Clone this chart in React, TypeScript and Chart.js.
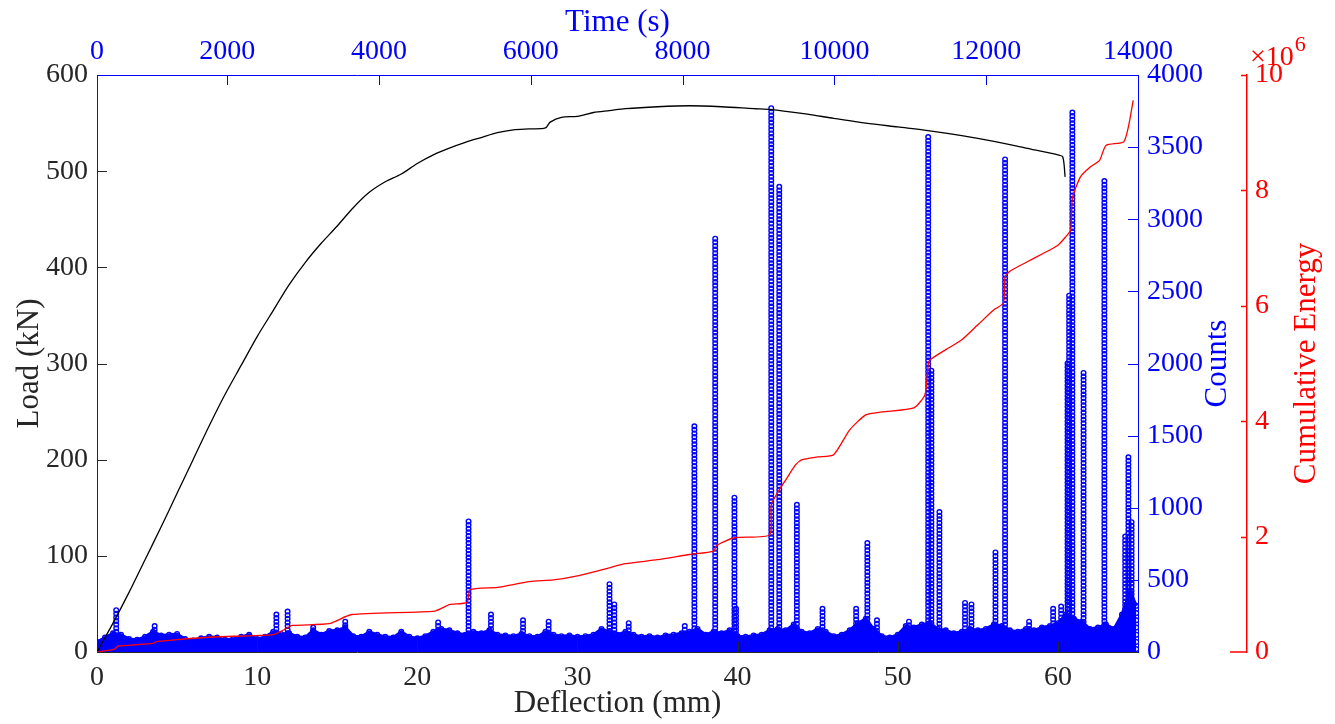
import React, { useEffect, useRef } from "react";
import { Chart, registerables } from "chart.js";

Chart.register(...registerables);

// ---------- tick labels ----------
const DEFL_TICKS = [0, 10, 20, 30, 40, 50, 60];
const LOAD_TICKS = [0, 100, 200, 300, 400, 500, 600];
const COUNT_TICKS = [0, 500, 1000, 1500, 2000, 2500, 3000, 3500, 4000];
const ENERGY_TICKS = [0, 2, 4, 6, 8, 10]; // x10^6
const TIME_TICKS = [0, 2000, 4000, 6000, 8000, 10000, 12000, 14000];
const TIME_AXIS_MIN = 284; // left edge of the time axis (labelled "0")

// ---------- load vs deflection (black) ----------
const LOAD_DEFL = [0, 1, 2, 3, 4, 5, 6, 7, 8, 9, 10, 11, 12, 13, 14, 15, 16, 17, 18, 19, 20, 21, 22, 23, 24, 25, 26, 27, 28, 28.3, 29, 30, 31, 32, 33, 35, 37, 39, 41, 42.1, 44, 46, 48, 50, 52, 54, 56, 58, 60, 60.3, 60.45];
const LOAD_KN = [0, 30, 62, 96, 130, 165, 200, 235, 268, 298, 328, 355, 382, 405, 425, 443, 462, 478, 489, 497, 508, 517, 524, 530, 535, 540, 543, 544, 545, 551, 556, 557, 561, 563, 565, 567, 568, 567, 565, 564, 560, 555, 550, 546, 542, 537, 531, 524, 517, 515, 494];

// ---------- cumulative energy (red, x10^6) ----------
const ENERGY_DEFL = [0, 1.1, 1.3, 3.5, 3.7, 7.2, 11, 11.7, 12.2, 14.5, 15.9, 21.1, 22, 23.1, 23.3, 25, 27, 28.5, 30, 32, 33, 35, 37, 38.5, 38.7, 39.8, 42, 42.1, 42.6, 43, 43.6, 44, 45, 46, 47, 48, 49, 51, 51.7, 51.9, 52, 53, 54, 55, 56, 56.6, 56.7, 57, 58, 59.1, 60, 60.5, 60.8, 60.9, 61.4, 62, 62.6, 63, 64.1, 64.4, 64.7];
const ENERGY_VAL = [0, 0.05, 0.1, 0.15, 0.18, 0.26, 0.3, 0.39, 0.46, 0.49, 0.65, 0.71, 0.82, 0.86, 1.08, 1.12, 1.22, 1.25, 1.32, 1.46, 1.53, 1.6, 1.69, 1.75, 1.85, 1.98, 2.03, 2.55, 2.81, 2.98, 3.24, 3.33, 3.38, 3.42, 3.85, 4.11, 4.16, 4.23, 4.46, 4.98, 5.06, 5.24, 5.41, 5.67, 5.93, 6.05, 6.5, 6.6, 6.75, 6.91, 7.05, 7.2, 7.31, 7.86, 8.23, 8.4, 8.52, 8.78, 8.84, 9.1, 9.56];

// ---------- counts: dense low band (blue) ----------
const BAND_DEFL = [0, 0.5, 1, 1.5, 2, 2.5, 3, 3.5, 4, 4.5, 5, 5.5, 6, 6.5, 7, 7.5, 8, 8.5, 9, 9.5, 10, 10.5, 11, 11.5, 12, 12.5, 13, 13.5, 14, 14.5, 15, 15.5, 16, 16.5, 17, 17.5, 18, 18.5, 19, 19.5, 20, 20.5, 21, 21.5, 22, 22.5, 23, 23.5, 24, 24.5, 25, 25.5, 26, 26.5, 27, 27.5, 28, 28.5, 29, 29.5, 30, 30.5, 31, 31.5, 32, 32.5, 33, 33.5, 34, 34.5, 35, 35.5, 36, 36.5, 37, 37.5, 38, 38.5, 39, 39.5, 40, 40.5, 41, 41.5, 42, 42.5, 43, 43.5, 44, 44.5, 45, 45.5, 46, 46.5, 47, 47.5, 48, 48.5, 49, 49.5, 50, 50.5, 51, 51.5, 52, 52.5, 53, 53.5, 54, 54.5, 55, 55.5, 56, 56.5, 57, 57.5, 58, 58.5, 59, 59.5, 60, 60.5, 61, 61.5, 62, 62.5, 63, 63.5, 64, 64.5, 64.9];
const BAND_COUNTS = [70, 100, 130, 120, 90, 85, 105, 140, 115, 120, 125, 90, 80, 95, 105, 100, 85, 90, 105, 120, 90, 105, 140, 125, 130, 105, 100, 150, 120, 145, 150, 170, 110, 105, 140, 120, 105, 100, 140, 105, 95, 110, 140, 160, 150, 130, 120, 140, 130, 150, 120, 115, 110, 125, 110, 105, 140, 120, 110, 115, 105, 110, 120, 160, 140, 120, 140, 120, 105, 110, 100, 115, 120, 130, 140, 160, 120, 140, 130, 150, 110, 105, 115, 120, 150, 160, 150, 190, 140, 130, 160, 140, 110, 120, 150, 200, 230, 160, 110, 100, 120, 180, 170, 190, 200, 160, 150, 130, 140, 160, 150, 160, 190, 180, 150, 140, 160, 150, 170, 180, 200, 260, 230, 210, 160, 170, 190, 160, 260, 420, 320];

// ---------- counts: columns of hits (blue rings) ----------
const SPIKE_DEFL = [1.2, 3.6, 11.2, 11.9, 13.5, 15.5, 21.3, 23.2, 24.6, 26.6, 28.2, 32.0, 32.3, 33.2, 36.7, 37.3, 38.6, 39.8, 39.9, 42.1, 42.6, 43.7, 45.3, 47.4, 48.1, 48.7, 50.7, 51.9, 52.1, 52.6, 54.2, 54.6, 56.1, 56.7, 58.2, 59.7, 60.2, 60.6, 60.7, 60.9, 61.6, 62.9, 64.2, 64.4, 64.6];
const SPIKE_TOP = [290, 180, 260, 280, 170, 210, 205, 905, 260, 220, 210, 470, 330, 200, 180, 1565, 2865, 1070, 300, 3770, 3225, 1020, 300, 300, 755, 220, 210, 3570, 1950, 970, 340, 330, 690, 3415, 210, 300, 315, 2000, 2470, 3740, 1935, 3265, 800, 1350, 900];
const RING_STEP = 25; // vertical spacing of the stacked hit markers (counts)

const DARK = "#262626";
const BLUE = "#0000ff";
const RED = "#ff0000";
const FONT = "'Liberation Serif', 'Times New Roman', serif";
const TICK_FONT = { family: FONT, size: 28 };
const TITLE_FONT = { family: FONT, size: 31 };

const decorPlugin = {
  id: "decor",
  afterDraw(chart: any) {
    const { ctx, chartArea: ca, scales } = chart;
    const L = 10;
    ctx.save();
    ctx.lineWidth = 1;
    const seg = (x1: number, y1: number, x2: number, y2: number) => {
      ctx.beginPath();
      ctx.moveTo(x1, y1);
      ctx.lineTo(x2, y2);
      ctx.stroke();
    };
    ctx.strokeStyle = DARK;
    scales.x.ticks.forEach((t: any) => {
      const px = Math.round(scales.x.getPixelForValue(t.value)) + 0.5;
      if (px > ca.left + 1 && px < ca.right - 1) seg(px, ca.bottom, px, ca.bottom - L);
    });
    scales.y.ticks.forEach((t: any) => {
      const py = Math.round(scales.y.getPixelForValue(t.value)) + 0.5;
      if (py > ca.top + 1 && py < ca.bottom - 1) seg(ca.left, py, ca.left + L, py);
    });
    ctx.strokeStyle = BLUE;
    scales.x2.ticks.forEach((t: any) => {
      const px = Math.round(scales.x2.getPixelForValue(t.value)) + 0.5;
      if (px > ca.left + 1 && px < ca.right - 1) seg(px, ca.top, px, ca.top + L);
    });
    scales.y1.ticks.forEach((t: any) => {
      const py = Math.round(scales.y1.getPixelForValue(t.value)) + 0.5;
      if (py > ca.top + 1 && py < ca.bottom - 1) seg(ca.right, py, ca.right - L, py);
    });
    ctx.strokeStyle = RED;
    ctx.lineWidth = 1.5;
    const ex = scales.y2.left;
    scales.y2.ticks.forEach((t: any) => {
      const py = Math.round(scales.y2.getPixelForValue(t.value)) + 0.5;
      if (py < ca.bottom - 1) seg(ex - 6, py, ex, py);
    });
    seg(ex - 17, ca.bottom, ex, ca.bottom);
    ctx.fillStyle = RED;
    ctx.textBaseline = "alphabetic";
    ctx.textAlign = "left";
    ctx.font = `28px ${FONT}`;
    const base = "\u00d710";
    ctx.fillText(base, ex + 3, 65);
    const w = ctx.measureText(base).width;
    ctx.font = `22px ${FONT}`;
    ctx.fillText("6", ex + 3 + w + 1, 51);
    const cy = (ca.top + ca.bottom) / 2;
    ctx.font = `31px ${FONT}`;
    ctx.textAlign = "center";
    ctx.textBaseline = "middle";
    ctx.save();
    ctx.translate(scales.y1.right - 29, cy);
    ctx.rotate(-Math.PI / 2);
    ctx.fillStyle = BLUE;
    ctx.fillText("Counts", 0, 0);
    ctx.restore();
    ctx.save();
    ctx.translate(scales.y2.right - 28, cy);
    ctx.rotate(-Math.PI / 2);
    ctx.fillStyle = RED;
    ctx.fillText("Cumulative Energy", 0, 0);
    ctx.restore();
    ctx.restore();
  },
};

export default function App() {
  const ref = useRef<HTMLCanvasElement | null>(null);

  useEffect(() => {
    if (!ref.current) return;
    const loadData = LOAD_DEFL.map((x, i) => ({ x, y: LOAD_KN[i] }));
    const energyData = ENERGY_DEFL.map((x, i) => ({ x, y: ENERGY_VAL[i] }));
    const bandData = BAND_DEFL.map((x, i) => ({ x, y: BAND_COUNTS[i] }));
    const ringData: { x: number; y: number }[] = [];
    SPIKE_DEFL.forEach((x, i) => {
      for (let v = SPIKE_TOP[i]; v >= 0; v -= RING_STEP) ringData.push({ x, y: v });
    });
    BAND_DEFL.forEach((x, i) => {
      for (let v = BAND_COUNTS[i]; v >= 0; v -= RING_STEP * 2) ringData.push({ x, y: v });
    });

    const intLabel = (v: any) => String(v);

    const chart = new Chart(ref.current, {
      type: "scatter",
      data: {
        datasets: [
          {
            type: "line",
            data: energyData,
            xAxisID: "x",
            yAxisID: "y2",
            borderColor: RED,
            borderWidth: 1.3,
            pointRadius: 0,
            fill: false,
            tension: 0.2,
          },
          {
            type: "line",
            data: loadData,
            xAxisID: "x",
            yAxisID: "y",
            borderColor: "#000000",
            borderWidth: 1.3,
            pointRadius: 0,
            fill: false,
            tension: 0.3,
          },
          {
            type: "scatter",
            data: ringData,
            xAxisID: "x",
            yAxisID: "y1",
            pointStyle: "circle",
            pointRadius: 2.3,
            borderWidth: 1.4,
            borderColor: BLUE,
            backgroundColor: "rgba(255,255,255,0)",
          },
          {
            type: "line",
            data: bandData,
            xAxisID: "x",
            yAxisID: "y1",
            borderColor: BLUE,
            backgroundColor: BLUE,
            borderWidth: 3,
            pointRadius: 0,
            fill: "origin",
            tension: 0,
          },
        ],
      },
      options: {
        animation: false,
        responsive: false,
        devicePixelRatio: 1,
        layout: { padding: 0 },
        plugins: { legend: { display: false }, tooltip: { enabled: false } },
        scales: {
          x: {
            type: "linear",
            position: "bottom",
            min: 0,
            max: 65,
            afterBuildTicks: (s: any) => {
              s.ticks = DEFL_TICKS.map((v) => ({ value: v }));
            },
            afterFit: (s: any) => {
              s.height = 72;
            },
            ticks: { color: DARK, font: TICK_FONT, padding: 9, maxRotation: 0, callback: intLabel },
            grid: { display: true, drawOnChartArea: false, drawTicks: false },
            border: { display: true, color: DARK, width: 1 },
            title: { display: true, text: "Deflection (mm)", color: DARK, font: TITLE_FONT, padding: { top: 0, bottom: 2 } },
          },
          x2: {
            type: "linear",
            position: "top",
            min: TIME_AXIS_MIN,
            max: 14000,
            afterBuildTicks: (s: any) => {
              s.ticks = TIME_TICKS.map((v) => ({ value: Math.max(v, TIME_AXIS_MIN) }));
            },
            afterFit: (s: any) => {
              s.height = 75;
            },
            ticks: {
              color: BLUE,
              font: TICK_FONT,
              padding: 7,
              maxRotation: 0,
              callback: (_v: any, i: number) => String(TIME_TICKS[i]),
            },
            grid: { display: true, drawOnChartArea: false, drawTicks: false },
            border: { display: true, color: BLUE, width: 1 },
            title: { display: true, text: "Time (s)", color: BLUE, font: TITLE_FONT, padding: { top: 4, bottom: 0 } },
          },
          y: {
            type: "linear",
            position: "left",
            min: 0,
            max: 600,
            afterBuildTicks: (s: any) => {
              s.ticks = LOAD_TICKS.map((v) => ({ value: v }));
            },
            afterFit: (s: any) => {
              s.width = 97;
            },
            ticks: { color: DARK, font: TICK_FONT, padding: 9, callback: intLabel },
            grid: { display: true, drawOnChartArea: false, drawTicks: false },
            border: { display: true, color: DARK, width: 1 },
            title: { display: true, text: "Load (kN)", color: DARK, font: TITLE_FONT, padding: { top: 11, bottom: 0 } },
          },
          y1: {
            type: "linear",
            position: "right",
            weight: 0,
            min: 0,
            max: 4000,
            afterBuildTicks: (s: any) => {
              s.ticks = COUNT_TICKS.map((v) => ({ value: v }));
            },
            afterFit: (s: any) => {
              s.width = 109;
            },
            ticks: { color: BLUE, font: TICK_FONT, padding: 9, callback: intLabel },
            grid: { display: true, drawOnChartArea: false, drawTicks: false },
            border: { display: true, color: BLUE, width: 1 },
          },
          y2: {
            type: "linear",
            position: "right",
            weight: 1,
            min: 0,
            max: 10,
            afterBuildTicks: (s: any) => {
              s.ticks = ENERGY_TICKS.map((v) => ({ value: v }));
            },
            afterFit: (s: any) => {
              s.width = 88;
            },
            ticks: { color: RED, font: TICK_FONT, padding: 8, callback: intLabel },
            grid: { display: true, drawOnChartArea: false, drawTicks: false },
            border: { display: true, color: RED, width: 1.5 },
          },
        },
      } as any,
      plugins: [decorPlugin],
    });
    return () => chart.destroy();
  }, []);

  return (
    <div style={{ position: "fixed", left: 0, top: 0, width: 1335, height: 724, background: "#ffffff" }}>
      <canvas ref={ref} width={1335} height={724} style={{ display: "block", width: 1335, height: 724 }} />
    </div>
  );
}
